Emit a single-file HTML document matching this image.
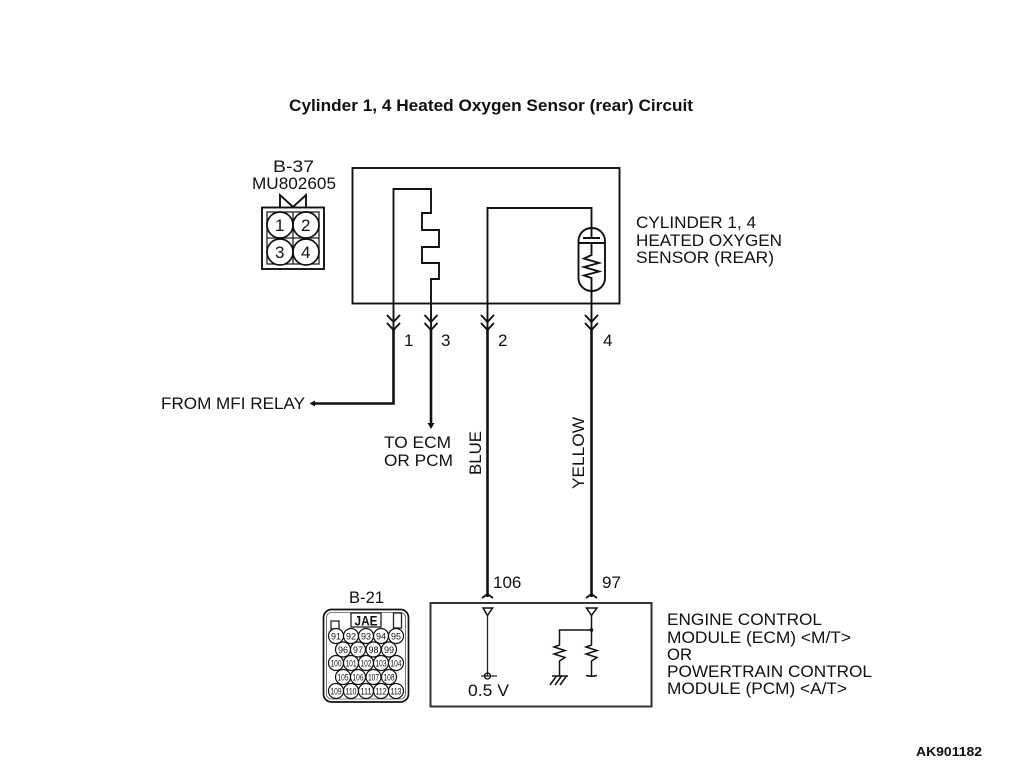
<!DOCTYPE html>
<html>
<head>
<meta charset="utf-8">
<style>
html,body{margin:0;padding:0;background:#fff;}
svg{display:block;}
text{font-family:"Liberation Sans",sans-serif;font-size:17px;fill:#111;}
.w{fill:none;stroke:#111;stroke-width:1.9;}
.h{fill:none;stroke:#111;stroke-width:2.6;}
.t{fill:none;stroke:#222;stroke-width:1.3;}
.p text{font-size:9px;text-anchor:middle;}
.p circle{fill:#fff;stroke:#111;stroke-width:1.2;}
</style>
</head>
<body>
<svg width="1010" height="771" viewBox="0 0 1010 771" xmlns="http://www.w3.org/2000/svg">
<rect width="1010" height="771" fill="#fff"/>
<text x="289" y="111" textLength="404" lengthAdjust="spacingAndGlyphs" style="font-weight:bold;font-size:17px">Cylinder 1, 4 Heated Oxygen Sensor (rear) Circuit</text>

<!-- B-37 connector -->
<text x="273" y="172" textLength="41" lengthAdjust="spacingAndGlyphs">B-37</text>
<text x="252" y="189" textLength="84" lengthAdjust="spacingAndGlyphs">MU802605</text>
<path class="w" d="M280 207V195L293 207L306 195V207"/>
<rect class="w" x="262" y="207.500" width="62" height="61.500"/>
<rect class="t" x="267" y="212" width="52" height="52"/>
<path class="t" d="M293 212V264M267 238H319"/>
<g fill="#fff" stroke="#111" stroke-width="1.700">
<circle cx="280" cy="225" r="13"/><circle cx="306" cy="225" r="13"/>
<circle cx="280" cy="252" r="13"/><circle cx="306" cy="252" r="13"/>
</g>
<text x="275" y="231">1</text><text x="301" y="231">2</text>
<text x="275" y="258">3</text><text x="301" y="258">4</text>

<!-- sensor box -->
<rect class="w" x="352.500" y="168" width="267" height="135.500"/>
<path class="w" d="M393.500 303V189H431V213H422V230H439V247H422V263H439V279H431V303"/>
<path class="w" d="M487.500 303V208H591.500V228"/>
<rect class="w" x="578.500" y="228" width="26.500" height="63" rx="13" ry="13"/>
<path class="w" d="M591.500 228V238M583 238H600M578.500 243H605M591.500 243V255L584 258.500L599 263L584 267L599 271.500L584 275.500L591.500 278V291V303"/>

<!-- wires -->
<path class="w" d="M393.500 303V330M431 303V330M487.500 303V330M591.500 303V330"/>
<path class="w" d="M387 315L393.500 322L400 315M387 323L393.500 330L400 323"/>
<path class="w" d="M424.500 315L431 322L437.500 315M424.500 323L431 330L437.500 323"/>
<path class="w" d="M481 315L487.500 322L494 315M481 323L487.500 330L494 323"/>
<path class="w" d="M585 315L591.500 322L598 315M585 323L591.500 330L598 323"/>
<path class="h" d="M393.500 329V403.500H313"/>
<path d="M309.500 403.500L315 400.500V406.500Z" fill="#111"/>
<path class="h" d="M431 329V424"/>
<path d="M431 429L427.500 423H434.500Z" fill="#111"/>
<path class="h" d="M487.500 329V597M591.500 329V597"/>
<path class="w" d="M482 598L487.500 594L493 598M586 598L591.500 594L597 598"/>

<text x="404" y="346">1</text>
<text x="441" y="346">3</text>
<text x="498" y="346">2</text>
<text x="603" y="346">4</text>
<text x="161" y="409" textLength="144" lengthAdjust="spacingAndGlyphs">FROM MFI RELAY</text>
<text x="384" y="448" textLength="67" lengthAdjust="spacingAndGlyphs">TO ECM</text>
<text x="384" y="466" textLength="69" lengthAdjust="spacingAndGlyphs">OR PCM</text>
<text transform="translate(481,475) rotate(-90)" textLength="44" lengthAdjust="spacingAndGlyphs">BLUE</text>
<text transform="translate(584,489) rotate(-90)" textLength="72" lengthAdjust="spacingAndGlyphs">YELLOW</text>

<text x="636" y="228" textLength="120" lengthAdjust="spacingAndGlyphs">CYLINDER 1, 4</text>
<text x="636" y="246" textLength="146" lengthAdjust="spacingAndGlyphs">HEATED OXYGEN</text>
<text x="636" y="263" textLength="138" lengthAdjust="spacingAndGlyphs">SENSOR (REAR)</text>

<text x="493" y="588">106</text>
<text x="602" y="588">97</text>

<!-- ECM box -->
<rect x="430.500" y="603" width="221" height="103.500" fill="none" stroke="#333" stroke-width="2"/>
<path d="M483 608H492.500L487.500 615.500Z M586.500 608H597L591.500 615.500Z" fill="#fff" stroke="#111" stroke-width="1.500"/>
<path class="t" d="M487.500 615V676M481 676H497"/>
<circle cx="487.500" cy="676" r="3" fill="none" stroke="#111" stroke-width="1.300"/>
<text x="468" y="696" textLength="41" lengthAdjust="spacingAndGlyphs">0.5 V</text>
<path class="w" d="M591.500 615V645L586 647L597 650.500L586 654L597 657.500L591.500 661V676M586 675.500Q591.500 677 597 675.500" style="stroke-width:1.500"/>
<path class="w" d="M591.500 630H559.500V645L554 647L565 650.500L554 654L565 657.500L559.500 661V676" style="stroke-width:1.500"/>
<circle cx="591.500" cy="630" r="1.800" fill="#111"/>
<path class="w" d="M552 676H568M556.500 676L550 685M561.500 676L555 685M566.500 676L560 685" style="stroke-width:1.500"/>

<text x="667" y="625" textLength="155" lengthAdjust="spacingAndGlyphs">ENGINE CONTROL</text>
<text x="667" y="643" textLength="184" lengthAdjust="spacingAndGlyphs">MODULE (ECM) &lt;M/T&gt;</text>
<text x="667" y="660" textLength="25" lengthAdjust="spacingAndGlyphs">OR</text>
<text x="667" y="677" textLength="205" lengthAdjust="spacingAndGlyphs">POWERTRAIN CONTROL</text>
<text x="667" y="694" textLength="180" lengthAdjust="spacingAndGlyphs">MODULE (PCM) &lt;A/T&gt;</text>

<!-- B-21 connector -->
<text x="349" y="603" textLength="35" lengthAdjust="spacingAndGlyphs">B-21</text>
<rect x="323.500" y="609.500" width="85" height="92.500" rx="8" fill="none" stroke="#111" stroke-width="1.700"/>
<rect x="326.500" y="612.500" width="79" height="86.500" rx="5" fill="none" stroke="#555" stroke-width=".8"/>
<rect class="t" x="351" y="613" width="30" height="14"/>
<text x="354.500" y="625.500" textLength="23" lengthAdjust="spacingAndGlyphs" style="font-size:14px;font-weight:bold">JAE</text>
<rect class="t" x="331" y="621" width="8" height="8"/>
<rect class="t" x="393.500" y="613" width="8" height="15"/>
<g class="p">
<circle cx="336" cy="636" r="7.500"/><text x="336" y="639.500">91</text>
<circle cx="351" cy="636" r="7.500"/><text x="351" y="639.500">92</text>
<circle cx="366" cy="636" r="7.500"/><text x="366" y="639.500">93</text>
<circle cx="381" cy="636" r="7.500"/><text x="381" y="639.500">94</text>
<circle cx="396" cy="636" r="7.500"/><text x="396" y="639.500">95</text>
<circle cx="343" cy="649.500" r="7.500"/><text x="343" y="653">96</text>
<circle cx="358" cy="649.500" r="7.500"/><text x="358" y="653">97</text>
<circle cx="373.500" cy="649.500" r="7.500"/><text x="373.500" y="653">98</text>
<circle cx="389" cy="649.500" r="7.500"/><text x="389" y="653">99</text>
<circle cx="336" cy="663" r="7.500"/><text x="336" y="666.500" textLength="11" lengthAdjust="spacingAndGlyphs">100</text>
<circle cx="351" cy="663" r="7.500"/><text x="351" y="666.500" textLength="11" lengthAdjust="spacingAndGlyphs">101</text>
<circle cx="366" cy="663" r="7.500"/><text x="366" y="666.500" textLength="11" lengthAdjust="spacingAndGlyphs">102</text>
<circle cx="381" cy="663" r="7.500"/><text x="381" y="666.500" textLength="11" lengthAdjust="spacingAndGlyphs">103</text>
<circle cx="396" cy="663" r="7.500"/><text x="396" y="666.500" textLength="11" lengthAdjust="spacingAndGlyphs">104</text>
<circle cx="343" cy="677" r="7.500"/><text x="343" y="680.500" textLength="11" lengthAdjust="spacingAndGlyphs">105</text>
<circle cx="358" cy="677" r="7.500"/><text x="358" y="680.500" textLength="11" lengthAdjust="spacingAndGlyphs">106</text>
<circle cx="373.500" cy="677" r="7.500"/><text x="373.500" y="680.500" textLength="11" lengthAdjust="spacingAndGlyphs">107</text>
<circle cx="389" cy="677" r="7.500"/><text x="389" y="680.500" textLength="11" lengthAdjust="spacingAndGlyphs">108</text>
<circle cx="336" cy="691" r="7.500"/><text x="336" y="694.500" textLength="11" lengthAdjust="spacingAndGlyphs">109</text>
<circle cx="351" cy="691" r="7.500"/><text x="351" y="694.500" textLength="11" lengthAdjust="spacingAndGlyphs">110</text>
<circle cx="366" cy="691" r="7.500"/><text x="366" y="694.500" textLength="11" lengthAdjust="spacingAndGlyphs">111</text>
<circle cx="381" cy="691" r="7.500"/><text x="381" y="694.500" textLength="11" lengthAdjust="spacingAndGlyphs">112</text>
<circle cx="396" cy="691" r="7.500"/><text x="396" y="694.500" textLength="11" lengthAdjust="spacingAndGlyphs">113</text>
</g>

<text x="916" y="756" textLength="66" lengthAdjust="spacingAndGlyphs" style="font-weight:bold;font-size:13px">AK901182</text>
</svg>
</body>
</html>
